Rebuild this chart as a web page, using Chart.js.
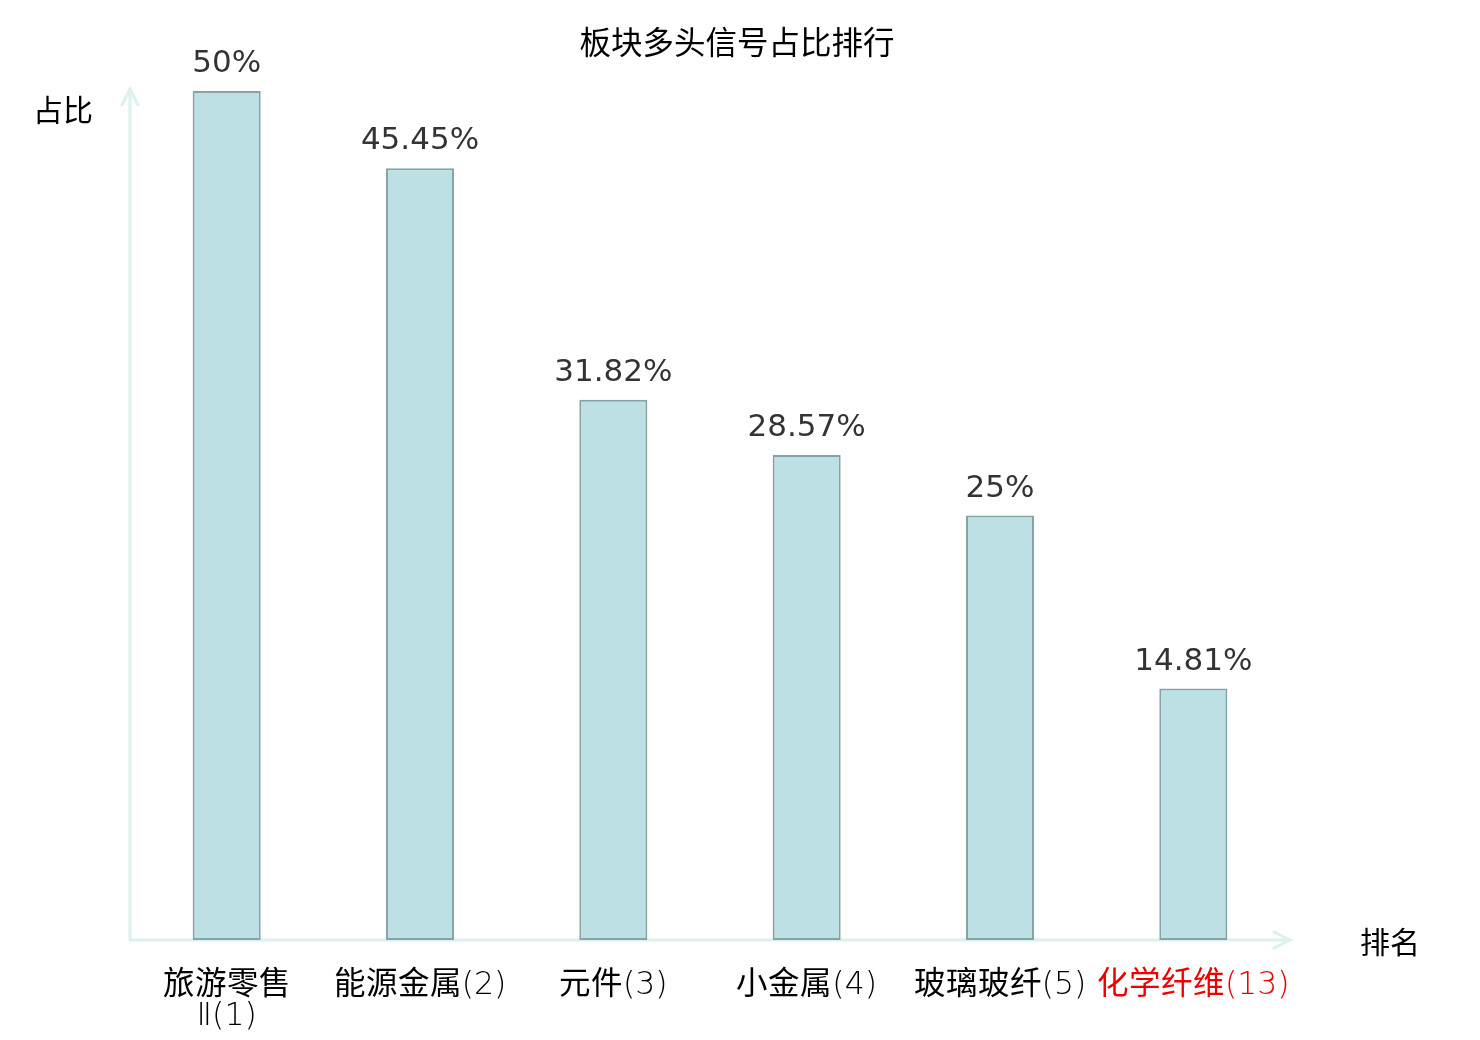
<!DOCTYPE html>
<html>
<head>
<meta charset="utf-8">
<script src="https://cdn.jsdelivr.net/npm/chart.js@4.4.0/dist/chart.umd.min.js"></script>
<style>
@font-face {
  font-family: 'CJKReg';
  src: local('Noto Sans CJK SC'), local('NotoSansCJKsc-Regular'), local('Noto Sans CJK SC Regular');
  font-weight: 100 900;
}
html,body{margin:0;padding:0;background:#fff;}
#wrap{width:1480px;height:1040px;}
</style>
</head>
<body>
<div id="wrap"><canvas id="c" width="1480" height="1040"></canvas></div>
<script>
const titleText = '板块多头信号占比排行';
const categories = [['旅游零售', 'Ⅱ(1)'], '能源金属(2)', '元件(3)', '小金属(4)', '玻璃玻纤(5)', '化学纤维(13)'];
const values = [50, 45.45, 31.82, 28.57, 25, 14.81];
const valueLabels = ['50%', '45.45%', '31.82%', '28.57%', '25%', '14.81%'];
const highlightIndex = 5;
const yAxisName = '占比';
const xAxisName = '排名';

const axisColor = '#dcf1ee';
const cjk = '"Noto Sans CJK SC", "Noto Sans", sans-serif';

const decor = {
  id: 'decor',
  beforeDatasetsDraw(chart) {
    const {ctx, chartArea: a} = chart;
    ctx.save();
    ctx.strokeStyle = axisColor;
    ctx.lineWidth = 3;
    ctx.lineCap = 'round';
    ctx.beginPath();
    ctx.moveTo(a.left, a.top - 2);
    ctx.lineTo(a.left, a.bottom);
    ctx.lineTo(a.right, a.bottom);
    ctx.stroke();
    ctx.beginPath();
    ctx.moveTo(a.left - 8, a.top + 14);
    ctx.lineTo(a.left, a.top - 2);
    ctx.lineTo(a.left + 8, a.top + 14);
    ctx.moveTo(a.right - 16, a.bottom - 8);
    ctx.lineTo(a.right, a.bottom);
    ctx.lineTo(a.right - 16, a.bottom + 8);
    ctx.stroke();
    ctx.restore();
  },
  afterDatasetsDraw(chart) {
    const {ctx, chartArea: a} = chart;
    ctx.save();
    ctx.fillStyle = '#000';
    ctx.textAlign = 'center';
    ctx.textBaseline = 'middle';
    ctx.font = '31.5px ' + cjk;
    ctx.fillText(titleText, chart.width / 2 - 3, 42);
    ctx.font = '30px ' + cjk;
    ctx.fillText(yAxisName, a.left - 67, a.top + 19);
    ctx.fillText(xAxisName, a.right + 100, a.bottom + 2);
    const meta = chart.getDatasetMeta(0);
    ctx.fillStyle = '#333';
    ctx.font = '31px "DejaVu Sans", sans-serif';
    ctx.textBaseline = 'alphabetic';
    meta.data.forEach((bar, i) => {
      ctx.fillText(valueLabels[i], bar.x, bar.y - 19);
    });
    ctx.restore();
  }
};

function build() {
  new Chart(document.getElementById('c'), {
    type: 'bar',
    data: {
      labels: categories,
      datasets: [{
        data: values,
        backgroundColor: '#bce0e3',
        borderColor: '#84a3a4',
        borderWidth: 2,
        borderSkipped: false,
        categoryPercentage: 1,
        barPercentage: 0.352
      }]
    },
    options: {
      responsive: false,
      animation: false,
      devicePixelRatio: 1,
      layout: {padding: {left: 130, right: 190, top: 91, bottom: 0}},
      plugins: {
        legend: {display: false},
        tooltip: {enabled: false},
        title: {display: false}
      },
      scales: {
        x: {
          offset: true,
          grid: {display: false, drawTicks: false},
          border: {display: false},
          ticks: {
            padding: 30,
            maxRotation: 0,
            autoSkip: false,
            font: {family: '"DejaVu Sans", CJKReg, "Noto Sans CJK SC", sans-serif', size: 31.5, weight: 200, lineHeight: 1.0},
            color: (c) => c.index === highlightIndex ? '#ee0000' : '#000'
          },
          afterFit: (axis) => { axis.height = 100; }
        },
        y: {
          display: false,
          min: 0,
          max: 50
        }
      }
    },
    plugins: [decor]
  });
}

Promise.all([
  document.fonts.load('200 30px CJKReg', '旅游零售能源金属元件小玻璃纤化学维'),
  document.fonts.load('200 30px "DejaVu Sans"', '(1)Ⅱ')
]).then(build, build);
</script>
</body>
</html>
